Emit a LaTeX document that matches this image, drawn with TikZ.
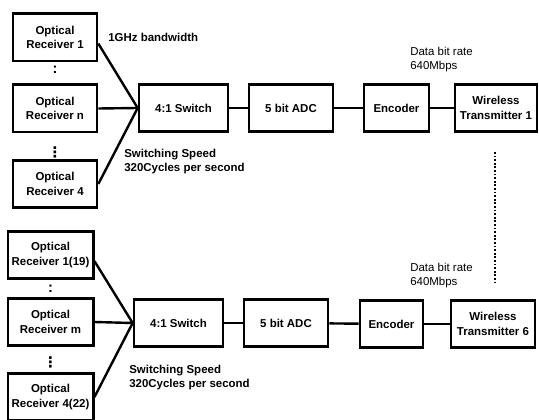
\documentclass[tikz,border=0pt]{standalone}
\usepackage{fontspec}
\setmainfont{Liberation Sans}
\newfontfamily\symfont{DejaVu Sans}
\usetikzlibrary{positioning}

\begin{document}
\begin{tikzpicture}[
    x=0.75pt, y=-0.75pt,
    every node/.style={font=\fontsize{8.6}{10.7}\selectfont\bfseries},
    blk/.style={draw, rectangle, line width=2pt, minimum height=35.5pt, align=center, inner sep=1pt},
    rxbox/.style={blk, minimum width=63pt},
    link/.style={line width=1.8pt},
    note/.style={align=left, anchor=north west, inner sep=0pt},
    twodot/.style={inner sep=0pt, font=\fontsize{11}{11}\selectfont\bfseries},
    threedot/.style={inner sep=0pt, font=\fontsize{11}{11}\selectfont\symfont\bfseries}
]
\useasboundingbox (0,0) rectangle (539,420);

% upper chain
\node (rx1) [rxbox] at (55,37.5) {Optical\\Receiver 1};
\node (rxn) [rxbox] at (55,108.5) {Optical\\Receiver n};
\node (rx4) [rxbox] at (55,184) {Optical\\Receiver 4};
\node (d1) [twodot] at (55,70) {:};
\node (d2) [threedot] at (55,152) {⋮};
\node (sw1) [blk, minimum width=66.75pt] at (183.5,108) {4:1 Switch};
\node (adc1) [blk, minimum width=63pt] at (291,108) {5 bit ADC};
\node (enc1) [blk, minimum width=48.75pt] at (396.5,108) {Encoder};
\node (wt1) [blk, minimum width=61.5pt] at (496,108) {Wireless\\Transmitter 1};

\node (bw1) [note] at (108,33) {1GHz bandwidth};
\node (ss1) [note] at (124,149) {Switching Speed\\320Cycles per second};
\node (dr1) [note, font=\fontsize{8.6}{10.7}\selectfont] at (410,47) {Data bit rate\\640Mbps};

\draw [link] (rx1.-8) -- (sw1.west);
\draw [link] (rxn.east) -- (sw1.west);
\draw [link] (rx4.east) -- (sw1.west);
\draw [link] (sw1) -- (adc1);
\draw [link] (adc1) -- (enc1);
\draw [link] (enc1) -- (wt1);

% lower chain
\node (rx19) [rxbox, minimum width=64pt] at (50.5,255) {Optical\\Receiver 1(19)};
\node (rxm) [rxbox, minimum width=64pt] at (50.5,322) {Optical\\Receiver m};
\node (rx22) [rxbox, minimum width=64pt] at (50.5,397) {Optical\\Receiver 4(22)};
\node (d3) [twodot] at (50.5,289) {:};
\node (d4) [threedot] at (50.5,362) {⋮};
\node (sw2) [blk, minimum width=66.75pt] at (178.5,323) {4:1 Switch};
\node (adc2) [blk, minimum width=63pt] at (286,323) {5 bit ADC};
\node (enc2) [blk, minimum width=47.25pt] at (391.5,324) {Encoder};
\node (wt6) [blk, minimum width=63pt] at (493,324) {Wireless\\Transmitter 6};

\node (ss2) [note] at (129,365) {Switching Speed\\320Cycles per second};
\node (dr2) [note, font=\fontsize{8.6}{10.7}\selectfont] at (410,263) {Data bit rate\\640Mbps};

\draw [link] (rx19.-8) -- (sw2.west);
\draw [link] (rxm.east) -- (sw2.west);
\draw [link] (rx22.east) -- (sw2.west);
\draw [link] (sw2) -- (adc2);
\draw [link] (adc2) -- (enc2);
\draw [link] (enc2) -- (wt6);

% dotted link between transmitters
\coordinate (vt) at (495,152);
\coordinate (vb) at (495,285);
\draw [line width=1.4pt, dash pattern=on 1.4pt off 1.3pt] (vt) -- (vb);

\end{tikzpicture}
\end{document}
